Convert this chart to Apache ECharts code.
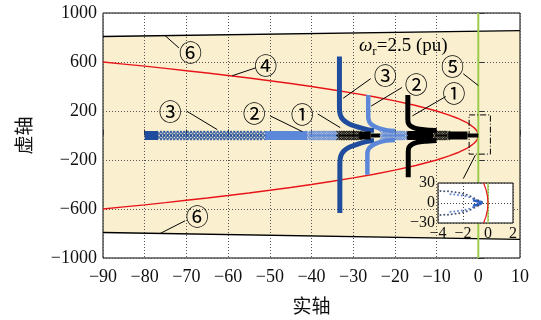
<!DOCTYPE html>
<html>
<head>
<meta charset="utf-8">
<script src="https://cdn.jsdelivr.net/npm/echarts@6/dist/echarts.min.js"></script>
<style>
  html, body { margin: 0; padding: 0; background: #fff; }
  #chart { width: 541px; height: 320px; }
</style>
</head>
<body>
<div id="chart"></div>
<script>
// shaded stability region (corners)
const bandRe = [-90, 10, 10, -90];
const bandIm = [808, 856, -848, -792];

// red boundary curve (upper half; lower half is its conjugate)
const redRe = [-90, -85, -80, -75, -70, -65, -60, -55, -50, -45, -40, -35, -30, -25, -20, -15, -10,
  -7, -5, -3, -2, -1, -0.5, -0.2, 0];
const redIm = [600, 583, 566, 548, 529, 510, 490, 469, 447, 424, 400, 374, 346, 316, 283, 245, 200,
  167, 141, 110, 89, 63, 45, 28, 0];

// complex branches
const b3Re = [-33.3, -33.3, -33.1, -32.4, -31, -29, -26.6, -25];
const b3Up = [645, 230, 170, 128, 95, 70, 48, 40];
const b3ReDn = [-33.2, -33.2, -33, -32.3, -30.9, -28.9, -26.6, -25];
const b3Dn = [-632, -230, -170, -128, -95, -70, -48, -40];

const b2Re = [-26.4, -26.4, -26.1, -25.2, -23.8, -21.8, -20];
const b2Up = [330, 150, 110, 80, 58, 42, 36];
const b2ReDn = [-26.6, -26.6, -26.3, -25.4, -24, -22, -20];
const b2Dn = [-320, -150, -110, -80, -58, -42, -36];

const b1Re = [-16.9, -16.9, -16.7, -16, -14.8, -13, -10];
const b1Up = [330, 130, 95, 72, 56, 47, 40];
const b1ReDn = [-16.8, -16.8, -16.6, -15.9, -14.7, -12.9, -10];
const b1Dn = [-340, -130, -95, -72, -56, -47, -40];

// real-axis clusters
const c3Solid = [-80, -76.8];
const c3Cross = [-76.5, -75.7, -74.9, -74.1, -73.3, -72.5, -71.7, -70.9, -70.1, -69.3, -68.5, -67.7,
  -66.9, -66.1, -65.3, -64.5, -63.7, -62.9, -62.1, -61.3, -60.5, -59.7, -58.9, -58.1, -57.3,
  -56.5, -55.7, -54.9, -54.1, -53.3, -52.5, -51.7];
const c2Solid = [-51.2, -41];
const c2Cross = [-40.6, -40, -39.4, -38.8, -38.2, -37.6, -37, -36.4, -35.8, -35.2, -34.6, -34,
  -23, -22.4, -21.8, -21.2, -20.6, -20, -19.4, -18.8, -18.2, -17.6];
const c1Cross = [-33.4, -32.8, -32.2, -31.6, -31, -30.4, -29.8, -29.2, -28.6,
  -10.4, -9.8, -9.2, -8.6, -8, -7.4];
const c1SolidA = [-28.6, -25.8];
const c1SolidA2 = [-25.8, -23.5];
const c1SolidB = [-17.2, -10.8];
const c1SolidC = [-7.2, -2.6];
const c1SolidC2 = [-2.6, 0];
const crossRows = [16, -16];

// inset (zoom near the origin)
const inRowARe = [-3.8, -3.5, -3.2, -2.9, -2.6, -2.3, -2.0, -1.7, -1.4, -1.1, -0.8];
const inRowAIm = [18, 17.8, 17.5, 17, 16.3, 15.3, 14, 12.3, 10, 7.3, 4.3];
const inRowBRe = [-3.0, -2.7, -2.4, -2.1, -1.8, -1.5, -1.2, -0.9, -0.6];
const inRowBIm = [13, 12.6, 12, 11.2, 10, 8.5, 6.5, 4.3, 2];
const inTipRe = [-1.2, -0.7, -0.45, -0.35, -0.45, -0.7, -1.2];
const inTipIm = [4, 2, 1, 0, -1, -2, -4];
const inRedRe = [-0.35, -0.16, -0.04, 0, -0.04, -0.16, -0.35];
const inRedIm = [30, 20, 10, 0, -10, -20, -30];

const DARK = '#1f4c9c', LIGHT = '#5d87d8', RED = '#e8141a', GREEN = '#9dcb4c', TAN = '#faf0cf';
const SERIF = '"Liberation Serif", "Times New Roman", serif';
const CJK = '"Noto Sans CJK SC", sans-serif';
const CROSS = 'path://M0,1.4L1.4,0L5,3.6L8.6,0L10,1.4L6.4,5L10,8.6L8.6,10L5,6.4L1.4,10L0,8.6L3.6,5Z';

const pairs = (re, im) => re.map((x, i) => [x, im[i]]);
const conj = (re, im) => re.map((x, i) => [x, -im[i]]);
const onAxis = (re) => re.map((x) => [x, 0]);
const rows = (re) => crossRows.flatMap((y) => re.map((x) => [x, y]));
const minus = (v) => String(v).replace('-', '\u2212');

function line(data, color, width, extra) {
  return Object.assign({ type: 'line', data, symbol: 'none', z: 4, silent: true,
    lineStyle: { color, width, cap: 'butt' } }, extra || {});
}
function crosses(re, color) {
  return { type: 'scatter', data: rows(re), symbol: CROSS, symbolSize: 6, z: 4, silent: true,
    itemStyle: { color } };
}

const chart = echarts.init(document.getElementById('chart'));

const option = {
  animation: false,
  grid: [
    { left: 103, top: 13, width: 417, height: 250, show: true, borderColor: '#000', borderWidth: 1, z: 3 },
    { left: 438, top: 183, width: 75, height: 40, show: true, backgroundColor: '#fff', borderColor: '#000', borderWidth: 1, z: 6 }
  ],
  xAxis: [
    {
      type: 'value', gridIndex: 0, min: -90, max: 10, interval: 10, z: 3,
      axisLine: { show: false },
      axisTick: { inside: true, length: 6, lineStyle: { color: '#333' } },
      axisLabel: { fontFamily: SERIF, fontSize: 18, color: '#111', margin: 10, formatter: minus },
      splitLine: { show: true, lineStyle: { type: [1, 2], color: '#555' } },
      name: '实轴', nameLocation: 'middle', nameGap: 38,
      nameTextStyle: { fontFamily: CJK, fontSize: 19, color: '#111' }
    },
    {
      type: 'value', gridIndex: 1, min: -4, max: 2, interval: 2, z: 7,
      axisLine: { show: false }, axisTick: { show: false },
      axisLabel: { fontFamily: SERIF, fontSize: 16, color: '#111', margin: 3, formatter: minus },
      splitLine: { show: true, lineStyle: { type: [1, 2], color: '#444' } }
    }
  ],
  yAxis: [
    {
      type: 'value', gridIndex: 0, min: -1000, max: 1000, interval: 400, z: 3,
      axisLine: { show: false },
      axisTick: { inside: true, length: 6, lineStyle: { color: '#333' } },
      axisLabel: { fontFamily: SERIF, fontSize: 18, color: '#111', margin: 6, formatter: minus },
      splitLine: { show: true, lineStyle: { type: [1, 2], color: '#555' } },
      name: '虚轴', nameLocation: 'middle', nameGap: 70,
      nameTextStyle: { fontFamily: CJK, fontSize: 19, color: '#111' }
    },
    {
      type: 'value', gridIndex: 1, min: -30, max: 30, interval: 30, z: 7,
      axisLine: { show: false }, axisTick: { show: false },
      axisLabel: { fontFamily: SERIF, fontSize: 16, color: '#111', margin: 3, formatter: minus },
      splitLine: { show: true, lineStyle: { type: [1, 2], color: '#444' } }
    }
  ],
  series: [
    {
      type: 'custom', z: 1, silent: true, data: [0],
      renderItem: (params, api) => ({
        type: 'polygon',
        shape: { points: bandRe.map((x, i) => api.coord([x, bandIm[i]])) },
        style: { fill: TAN }
      })
    },
    line(pairs([bandRe[0], bandRe[1]], [bandIm[0], bandIm[1]]), '#000', 1.3),
    line(pairs([bandRe[3], bandRe[2]], [bandIm[3], bandIm[2]]), '#000', 1.3),
    line(pairs(redRe, redIm), RED, 1.4),
    line(conj(redRe, redIm), RED, 1.4),
    line([[0, -1000], [0, 1000]], GREEN, 2),

    // case 3 (dark blue)
    line(onAxis(c3Solid), DARK, 9),
    crosses(c3Cross, DARK),
    line(pairs(b3Re, b3Up), DARK, 5, { smooth: 0.3 }),
    line(pairs(b3ReDn, b3Dn), DARK, 5, { smooth: 0.3 }),

    // case 2 (light blue)
    line(onAxis(c2Solid), LIGHT, 9),
    crosses(c2Cross, LIGHT),
    line(pairs(b2Re, b2Up), LIGHT, 4.5, { smooth: 0.3 }),
    line(pairs(b2ReDn, b2Dn), LIGHT, 4.5, { smooth: 0.3 }),

    // case 1 (black)
    crosses(c1Cross, '#000'),
    line(onAxis(c1SolidA), '#000', 8),
    line(onAxis(c1SolidA2), '#000', 4),
    line(onAxis(c1SolidB), '#000', 9),
    line(onAxis(c1SolidC), '#000', 8),
    line(onAxis(c1SolidC2), '#000', 4),
    line(pairs(b1Re, b1Up), '#000', 5, { smooth: 0.3 }),
    line(pairs(b1ReDn, b1Dn), '#000', 5, { smooth: 0.3 }),

    // inset
    line([[0, -30], [0, 30]], GREEN, 1.5, { xAxisIndex: 1, yAxisIndex: 1, z: 8 }),
    line(pairs(inRedRe, inRedIm), RED, 1.2, { xAxisIndex: 1, yAxisIndex: 1, z: 8 }),
    { type: 'scatter', xAxisIndex: 1, yAxisIndex: 1, z: 8, symbolSize: 2, silent: true,
      data: pairs(inRowARe, inRowAIm).concat(conj(inRowARe, inRowAIm)), itemStyle: { color: '#1a2a55' } },
    { type: 'scatter', xAxisIndex: 1, yAxisIndex: 1, z: 8, symbolSize: 2, silent: true,
      data: pairs(inRowBRe, inRowBIm).concat(conj(inRowBRe, inRowBIm)), itemStyle: { color: '#3a66c0' } },
    line(pairs(inTipRe, inTipIm), '#2c5cc0', 2.5, { xAxisIndex: 1, yAxisIndex: 1, z: 8 })
  ]
};

chart.setOption(option);

// annotations placed in data coordinates of the main grid
const P = (x, y) => chart.convertToPixel({ gridIndex: 0 }, [x, y]);
const graphic = [];
function label(str, x, y) {
  const [px, py] = P(x, y);
  graphic.push({ type: 'text', x: px, y: py, z: 20, silent: true,
    style: { text: str, fontFamily: CJK, fontSize: 23, fill: '#000',
      align: 'center', verticalAlign: 'middle', textAlign: 'center', textVerticalAlign: 'middle' } });
}
function leader(x1, y1, x2, y2) {
  const a = P(x1, y1), b = P(x2, y2);
  graphic.push({ type: 'line', z: 20, silent: true,
    shape: { x1: a[0], y1: a[1], x2: b[0], y2: b[1] }, style: { stroke: '#000', lineWidth: 1 } });
}

label('⑥', -69, 680);   leader(-75.1, 815, -71.8, 715);
label('④', -51, 576);   leader(-53.4, 552, -59, 488);
label('⑥', -67.4, -656); leader(-70.3, -696, -76.3, -800);
label('③', -22.3, 488); leader(-25.8, 464, -32.4, 304);
label('②', -14.9, 416); leader(-18.3, 392, -25.7, 240);
label('①', -5.8, 344);  leader(-7.8, 318, -15.8, 160);
label('⑤', -6.2, 568);  leader(-3.6, 504, 0, 408);
label('③', -73.9, 200); leader(-70, 200, -62.6, 48);
label('②', -53.7, 184); leader(-49.9, 160, -42.2, 32);
label('①', -42.2, 176); leader(-38.5, 176, -33.1, 64);

// zoom box and its pointer to the inset
const r0 = P(-2.2, 168), r1 = P(2.9, -152);
graphic.push({ type: 'rect', z: 20, silent: true,
  shape: { x: r0[0], y: r0[1], width: r1[0] - r0[0], height: r1[1] - r0[1] },
  style: { fill: 'none', stroke: '#000', lineWidth: 1, lineDash: [6, 2, 1, 2] } });
leader(-0.7, -160, -3.6, -352);

// operating point label
const w = P(-18, 728);
graphic.push({ type: 'text', x: w[0], y: w[1], z: 20, silent: true,
  style: {
    text: '{w|ω}{s|r}{n|=2.5 (pu)}', fill: '#000',
    align: 'center', verticalAlign: 'middle', textAlign: 'center', textVerticalAlign: 'middle',
    rich: {
      w: { fontFamily: SERIF, fontSize: 19, fontStyle: 'italic' },
      s: { fontFamily: SERIF, fontSize: 13, padding: [10, 0, 0, 0] },
      n: { fontFamily: SERIF, fontSize: 19 }
    }
  } });

chart.setOption({ graphic });
</script>
</body>
</html>
